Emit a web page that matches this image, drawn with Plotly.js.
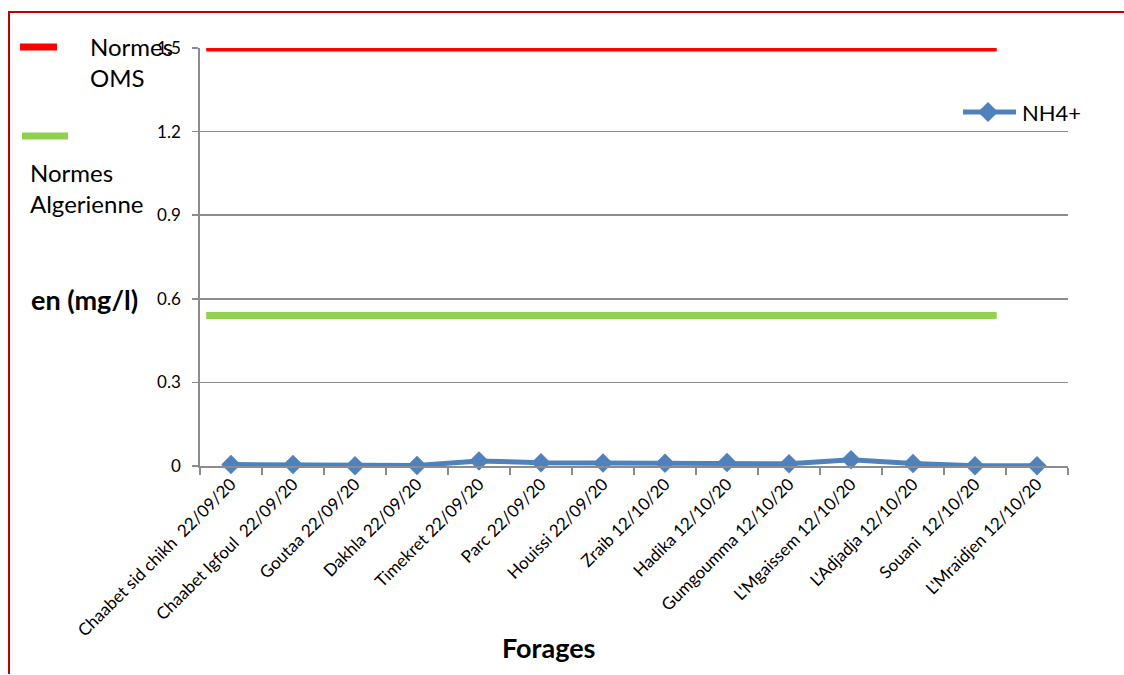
<!DOCTYPE html>
<html>
<head>
<meta charset="utf-8">
<script src="https://cdn.plot.ly/plotly-3.0.1.min.js"></script>
<style>
  html, body { margin: 0; padding: 0; background: #fff; }
  #wrap { position: relative; width: 1124px; height: 675px; }
  #chart { position: absolute; left: 0; top: 0; width: 1124px; height: 675px; }
  #frame { position: absolute; left: 8px; top: 11px; width: 1116px; height: 661px;
           border-left: 2px solid #c00000; border-top: 2px solid #c00000; pointer-events: none; }
</style>
</head>
<body>
<div id="wrap"><div id="chart"></div><div id="frame"></div></div>
<script>
// ---- data ----
const categories = [
  "Chaabet sid chikh\u00a0\u00a022/09/20",
  "Chaabet Igfoul\u00a0\u00a022/09/20",
  "Goutaa 22/09/20",
  "Dakhla 22/09/20",
  "Timekret 22/09/20",
  "Parc 22/09/20",
  "Houissi 22/09/20",
  "Zraib 12/10/20",
  "Hadika 12/10/20",
  "Gumgoumma 12/10/20",
  "L'Mgaissem 12/10/20",
  "L'Adjadja 12/10/20",
  "Souani\u00a0\u00a012/10/20",
  "L'Mraidjen 12/10/20"
];
const nh4 = [0.005, 0.005, 0.001, 0.002, 0.018, 0.012, 0.011, 0.010, 0.013, 0.008, 0.022, 0.009, 0.001, 0.001];
const normeOMS = 1.5;
const normeAlgerienne = 0.54;
const normSpan = [-0.4, 12.35];     // category-index span covered by the norm series
const yTicks = [0, 0.3, 0.6, 0.9, 1.2, 1.5];
const yTickText = ["0", "0.3", "0.6", "0.9", "1.2", "1.5"];

const idx = categories.map((c, i) => i);

// ---- layout helpers (pixel -> paper) ----
const L = 200, R = 1068, T = 48, B = 466;
const px = p => (p - L) / (R - L);
const py = p => (B - p) / (B - T);

const FONT = "Lato, 'Open Sans', sans-serif";
const GRID = "#8c8c8c";

const traces = [
  {
    x: normSpan, y: normSpan.map(() => normeOMS),
    mode: "lines", line: { color: "#ff0000", width: 7 },
    name: "Normes OMS", showlegend: false, hoverinfo: "skip"
  },
  {
    x: normSpan, y: normSpan.map(() => normeAlgerienne),
    mode: "lines", line: { color: "#92d050", width: 7 },
    name: "Normes Algerienne", showlegend: false, hoverinfo: "skip"
  },
  {
    x: idx, y: nh4,
    mode: "lines+markers",
    line: { color: "#4f81bd", width: 5 },
    marker: { symbol: "diamond", size: 15, color: "#4f81bd" },
    name: "NH4+", showlegend: false, cliponaxis: false
  }
];

const layout = {
  width: 1124, height: 675,
  margin: { l: L, r: 1124 - R, t: T, b: 675 - B, pad: 0 },
  paper_bgcolor: "#ffffff", plot_bgcolor: "#ffffff",
  font: { family: FONT, color: "#000" },
  showlegend: false,
  xaxis: {
    range: [-0.5, categories.length - 0.5],
    tickmode: "array", tickvals: idx, ticktext: categories,
    tickangle: -45, tickfont: { size: 17, family: FONT, color: "#000" },
    ticks: "outside", ticklen: 0, tickcolor: "rgba(0,0,0,0)",
    minor: { ticks: "outside", ticklen: 7, tickwidth: 1.5, tickcolor: GRID, tick0: -0.5, dtick: 1, showgrid: false },
    showgrid: false, zeroline: false,
    showline: true, linecolor: GRID, linewidth: 1.5,
    fixedrange: true
  },
  yaxis: {
    range: [0, 1.5],
    tickmode: "array", tickvals: yTicks, ticktext: yTickText,
    tickfont: { size: 17, family: FONT, color: "#000" },
    ticks: "outside", ticklen: 6, tickwidth: 1.5, tickcolor: GRID,
    ticklabelstandoff: 8,
    showgrid: true, gridcolor: GRID, gridwidth: 1.5,
    zeroline: false,
    showline: true, linecolor: GRID, linewidth: 1.8,
    fixedrange: true
  },
  shapes: [
    // legend swatches
    { type: "line", xref: "paper", yref: "paper", x0: px(20), x1: px(57), y0: py(47), y1: py(47),
      line: { color: "#ff0000", width: 7 } },
    { type: "line", xref: "paper", yref: "paper", x0: px(22), x1: px(68), y0: py(136), y1: py(136),
      line: { color: "#92d050", width: 7 } },
    { type: "line", xref: "paper", yref: "paper", x0: px(963), x1: px(1016), y0: py(112), y1: py(112),
      line: { color: "#4f81bd", width: 5, cap: "round" } },
    { type: "path", xref: "paper", yref: "paper", xsizemode: "pixel", ysizemode: "pixel",
      xanchor: px(988), yanchor: py(112),
      path: "M -10 0 L 0 -10 L 10 0 L 0 10 Z",
      fillcolor: "#4f81bd", line: { width: 0 } }
  ],
  annotations: [
    { xref: "paper", yref: "paper", x: px(88), y: py(30), xanchor: "left", yanchor: "top",
      text: "Normes<br>OMS", showarrow: false, align: "left",
      font: { size: 24, family: FONT, color: "#000" } },
    { xref: "paper", yref: "paper", x: px(28), y: py(156), xanchor: "left", yanchor: "top",
      text: "Normes<br>Algerienne", showarrow: false, align: "left",
      font: { size: 24, family: FONT, color: "#000" } },
    { xref: "paper", yref: "paper", x: px(1020), y: py(112), xanchor: "left", yanchor: "middle",
      text: "NH4+", showarrow: false, align: "left",
      font: { size: 22, family: FONT, color: "#000" } },
    { xref: "paper", yref: "paper", x: px(84), y: py(299), xanchor: "center", yanchor: "middle",
      text: "<b>en (mg/l)</b>", showarrow: false,
      font: { size: 27, family: FONT, color: "#000" } },
    { xref: "paper", yref: "paper", x: px(548), y: py(647), xanchor: "center", yanchor: "middle",
      text: "<b>Forages</b>", showarrow: false,
      font: { size: 27, family: FONT, color: "#000" } }
  ]
};

Plotly.newPlot("chart", traces, layout, { displayModeBar: false, staticPlot: true });
</script>
</body>
</html>
